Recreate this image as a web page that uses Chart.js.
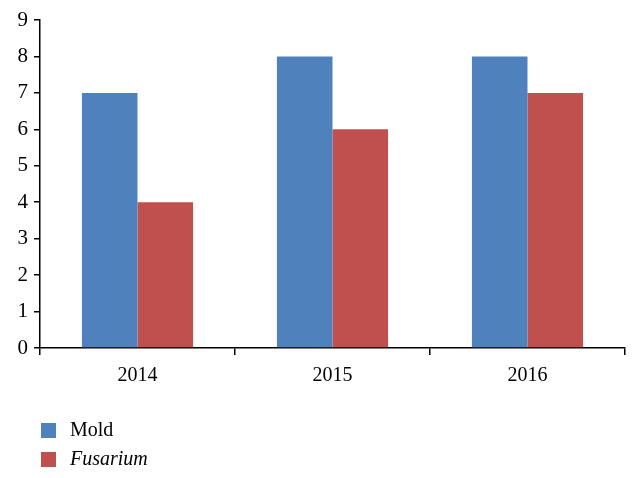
<!DOCTYPE html>
<html>
<head>
<meta charset="utf-8">
<script src="https://cdn.jsdelivr.net/npm/chart.js@4.4.1/dist/chart.umd.min.js"></script>
<style>
  html, body { margin: 0; padding: 0; background: #fff; }
  #wrap { width: 640px; height: 478px; }
</style>
</head>
<body>
<div id="wrap"><canvas id="myChart" width="640" height="478"></canvas></div>
<script>
var years = ["2014", "2015", "2016"];
var moldValues = [7, 8, 8];
var fusariumValues = [4, 6, 7];
var yTicks = [0, 1, 2, 3, 4, 5, 6, 7, 8, 9];

var serif = "'Liberation Serif', 'DejaVu Serif', serif";

// legend drawn under the plot, left aligned, second label in italics
var bottomLegend = {
  id: "bottomLegend",
  afterDraw: function(chart) {
    var ctx = chart.ctx;
    var items = chart.data.datasets;
    ctx.save();
    items.forEach(function(ds, i) {
      var y = 430 + i * 29;
      ctx.fillStyle = ds.backgroundColor;
      ctx.fillRect(41, y - 7, 15, 15);
      ctx.fillStyle = "#000";
      ctx.font = (ds.italic ? "italic " : "") + "20px " + serif;
      ctx.textBaseline = "middle";
      ctx.fillText(ds.label, 70, y + 1);
    });
    ctx.restore();
  }
};

new Chart("myChart", {
  type: "bar",
  data: {
    labels: years,
    datasets: [{
      label: "Mold",
      data: moldValues,
      backgroundColor: "#4F81BD",
      categoryPercentage: 0.57,
      barPercentage: 1.0
    }, {
      label: "Fusarium",
      italic: true,
      data: fusariumValues,
      backgroundColor: "#C0504D",
      categoryPercentage: 0.57,
      barPercentage: 1.0
    }]
  },
  options: {
    responsive: false,
    animation: false,
    layout: { padding: { top: 20, right: 15, left: 0, bottom: 0 } },
    plugins: {
      legend: { display: false },
      tooltip: { enabled: false }
    },
    scales: {
      x: {
        afterFit: function(s) { s.height = 130; },
        grid: {
          offset: true,
          drawOnChartArea: false,
          tickLength: 7,
          color: "#000",
          lineWidth: 1.5
        },
        border: { color: "#000", width: 1.5 },
        ticks: { color: "#000", font: { family: serif, size: 20 }, padding: 9 }
      },
      y: {
        min: 0,
        max: 9,
        afterFit: function(s) { s.width = 40; },
        afterBuildTicks: function(s) {
          s.ticks = yTicks.map(function(v) { return { value: v }; });
        },
        grid: {
          drawOnChartArea: false,
          tickLength: 6,
          color: "#000",
          lineWidth: 1.5
        },
        border: { color: "#000", width: 1.5 },
        ticks: { color: "#000", font: { family: serif, size: 21 }, padding: 6 }
      }
    }
  },
  plugins: [bottomLegend]
});
</script>
</body>
</html>
